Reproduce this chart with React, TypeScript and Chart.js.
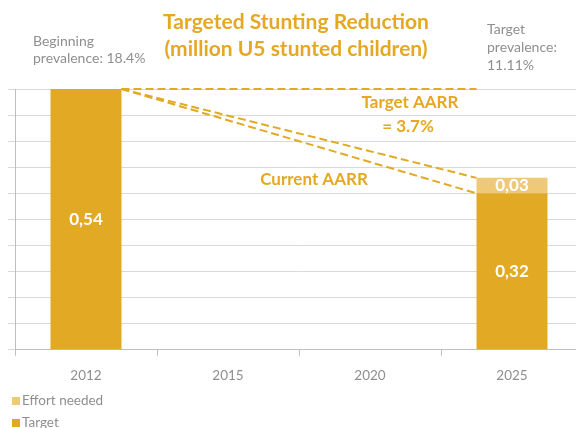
import React, { useEffect, useRef } from "react";
import { Chart, registerables } from "chart.js";

Chart.register(...registerables);

// ---- data ----
const categories = ["2012", "2015", "2020", "2025"];
const targetValues: (number | null)[] = [0.54, null, null, 0.324];
const effortValues: (number | null)[] = [null, null, null, 0.032];
const seriesNames = ["Target", "Effort needed"];
const yMax = 0.54;
const yStep = 0.054;
const titleLines = ["Targeted Stunting Reduction", "(million U5 stunted children)"];
const beginningText = ["Beginning", "prevalence: 18.4%"];
const targetPrevText = ["Target", "prevalence:", "11.11%"];
const targetAarrText = ["Target AARR", "= 3.7%"];
const currentAarrText = "Current AARR";

const TARGET_COLOR = "#E2AA24";
const EFFORT_COLOR = "#EEC978";
const ORANGE_TEXT = "#E5A822";
const GRAY_TEXT = "#8F8F8F";
const FONT = "Lato, 'Open Sans', sans-serif";

const fmt = (v: number) => v.toFixed(2).replace(".", ",");

const overlayPlugin = {
  id: "overlay",
  afterDatasetsDraw(chart: any) {
    const ctx = chart.ctx as CanvasRenderingContext2D;
    const y = chart.scales.y;
    const metaT = chart.getDatasetMeta(0);
    const metaE = chart.getDatasetMeta(1);
    const first = metaT.data[0];
    const last = metaT.data[3];

    // dashed AARR lines
    const startX = first.x + first.width / 2;
    const startY = y.getPixelForValue(targetValues[0] as number);
    const endX = last.x - last.width / 2;
    const ends = [
      targetValues[0] as number,
      (targetValues[3] as number) + (effortValues[3] as number),
      targetValues[3] as number,
    ];
    ctx.save();
    ctx.strokeStyle = TARGET_COLOR;
    ctx.lineWidth = 2;
    ctx.setLineDash([8, 4]);
    for (const v of ends) {
      ctx.beginPath();
      ctx.moveTo(startX, startY);
      ctx.lineTo(endX, y.getPixelForValue(v));
      ctx.stroke();
    }
    ctx.restore();

    // data labels
    ctx.save();
    ctx.fillStyle = "#FFFFFF";
    ctx.font = `bold 17px ${FONT}`;
    ctx.textAlign = "center";
    ctx.textBaseline = "middle";
    [metaT, metaE].forEach((meta: any, di: number) => {
      const vals = di === 0 ? targetValues : effortValues;
      meta.data.forEach((el: any, i: number) => {
        const v = vals[i];
        if (v == null) return;
        ctx.fillText(fmt(v), el.x, (el.y + el.base) / 2);
      });
    });
    ctx.restore();

    // annotations
    ctx.save();
    ctx.fillStyle = ORANGE_TEXT;
    ctx.font = `bold 17px ${FONT}`;
    ctx.textAlign = "center";
    ctx.textBaseline = "middle";
    ctx.fillText(targetAarrText[0], 410, 103);
    ctx.fillText(targetAarrText[1], 408, 127);
    ctx.fillText(currentAarrText, 314, 180);
    ctx.restore();
  },
  afterDraw(chart: any) {
    const ctx = chart.ctx as CanvasRenderingContext2D;
    ctx.save();
    // title
    ctx.fillStyle = ORANGE_TEXT;
    ctx.font = `bold 21px ${FONT}`;
    ctx.textAlign = "center";
    ctx.textBaseline = "middle";
    ctx.fillText(titleLines[0], 296, 22);
    ctx.fillText(titleLines[1], 296, 49);

    // side notes
    ctx.fillStyle = GRAY_TEXT;
    ctx.font = `14px ${FONT}`;
    ctx.textAlign = "left";
    ctx.fillText(beginningText[0], 33, 41);
    ctx.fillText(beginningText[1], 33, 58);
    ctx.fillText(targetPrevText[0], 487, 29);
    ctx.fillText(targetPrevText[1], 487, 47);
    ctx.fillText(targetPrevText[2], 487, 65);

    // legend (Effort needed first, then Target)
    const items = [
      { label: seriesNames[1], color: EFFORT_COLOR },
      { label: seriesNames[0], color: TARGET_COLOR },
    ];
    ctx.font = `13.5px ${FONT}`;
    items.forEach((it, i) => {
      const cy = 401 + i * 22;
      ctx.fillStyle = it.color;
      ctx.fillRect(12, cy - 4, 8, 8);
      ctx.fillStyle = GRAY_TEXT;
      ctx.fillText(it.label, 22, cy);
    });
    ctx.restore();
  },
};

export default function App() {
  const ref = useRef<HTMLCanvasElement | null>(null);
  useEffect(() => {
    if (!ref.current) return;
    const chart = new Chart(ref.current, {
      type: "bar",
      data: {
        labels: categories,
        datasets: [
          {
            label: seriesNames[0],
            data: targetValues,
            backgroundColor: TARGET_COLOR,
            barPercentage: 0.5,
            categoryPercentage: 1,
          },
          {
            label: seriesNames[1],
            data: effortValues,
            backgroundColor: EFFORT_COLOR,
            barPercentage: 0.5,
            categoryPercentage: 1,
          },
        ],
      },
      options: {
        responsive: false,
        animation: false,
        layout: { padding: { left: 8, right: 7, top: 89, bottom: 32 } },
        plugins: {
          legend: { display: false },
          tooltip: { enabled: false },
          title: { display: false },
        },
        scales: {
          x: {
            stacked: true,
            grid: {
              offset: true,
              drawOnChartArea: false,
              drawTicks: true,
              tickLength: 6,
              color: "#BFBFBF",
            },
            border: { color: "#BFBFBF", width: 1 },
            ticks: {
              color: GRAY_TEXT,
              font: { family: FONT, size: 13.5 },
              padding: 12,
            },
          },
          y: {
            stacked: true,
            min: 0,
            max: yMax,
            ticks: { display: false, stepSize: yStep },
            grid: { color: "#D9D9D9", tickLength: 7, drawTicks: true },
            border: { color: "#BFBFBF", width: 1 },
          },
        },
      },
      plugins: [overlayPlugin],
    });
    return () => chart.destroy();
  }, []);
  return (
    <div
      style={{
        position: "fixed",
        left: 0,
        top: 0,
        width: 576,
        height: 428,
        overflow: "hidden",
        background: "#fff",
      }}
    >
      <canvas ref={ref} width={590} height={428} style={{ display: "block" }} />
    </div>
  );
}
